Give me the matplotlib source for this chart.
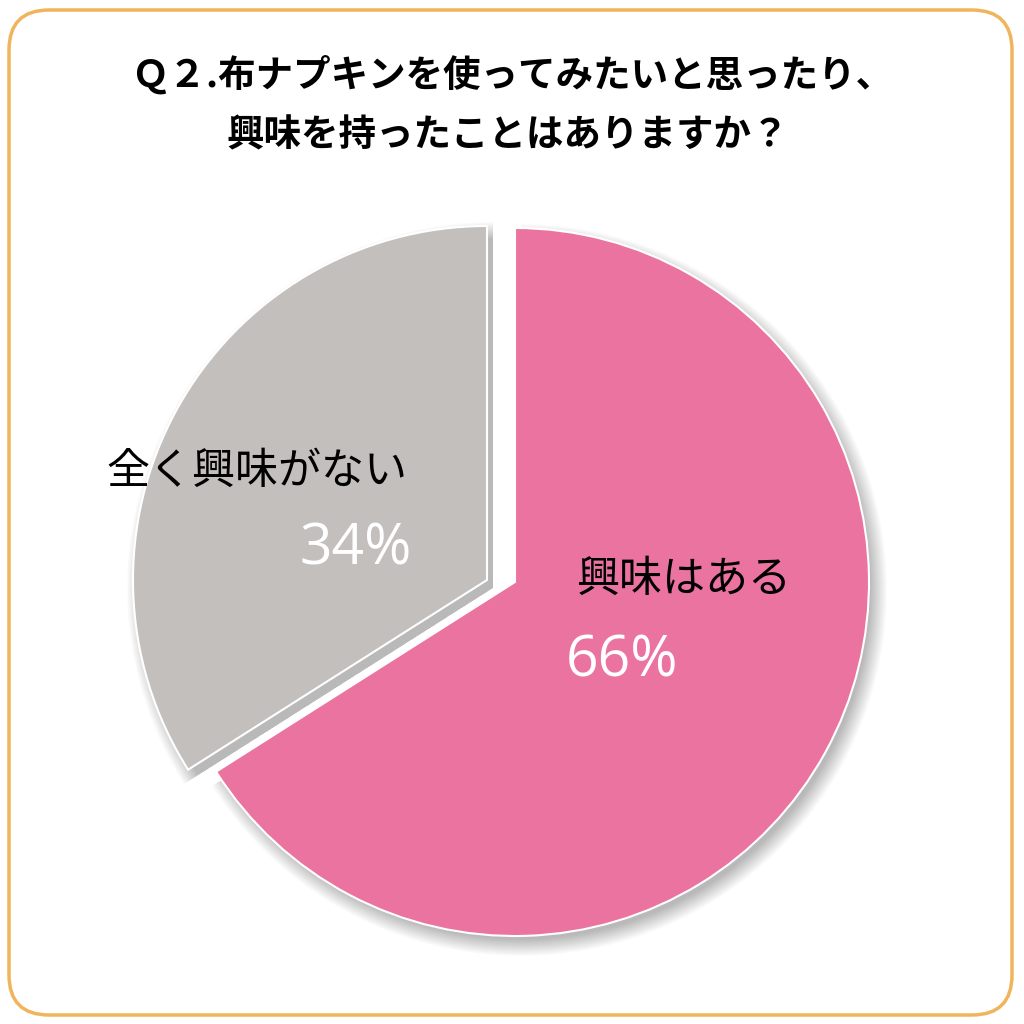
import matplotlib
matplotlib.use('Agg')
import matplotlib.pyplot as plt
from matplotlib.patches import FancyBboxPatch

plt.rcParams['font.family'] = ['Noto Sans CJK JP', 'DejaVu Sans']

# データ
labels = ['興味はある', '全く興味がない']
values = [66, 34]
pct_text = ['66%', '34%']
colors = ['#EB739F', '#C3BFBC']
title_lines = ['Ｑ２.布ナプキンを使ってみたいと思ったり、', '興味を持ったことはありますか？']

W = 1024
fig = plt.figure(figsize=(10.24, 10.24), dpi=100)
ax = fig.add_axes([0, 0, 1, 1])

cx, cy, r = 515, 442, 354
gap = 28  # gray slice shifted left

# soft shadow
for i in range(18):
    sw, _ = ax.pie(values, startangle=90, counterclock=False, center=(cx + 6, cy - 8),
                   radius=r + 12 - i, colors=['black', 'black'],
                   wedgeprops=dict(linewidth=0, alpha=0.014))
    sw[1].set_center((cx + 6 - gap, cy - 6))

wedges, _ = ax.pie(values, colors=colors, startangle=90, counterclock=False,
                   center=(cx, cy), radius=r,
                   wedgeprops=dict(edgecolor='white', linewidth=1.5))
wedges[1].set_center((cx - gap, cy + 2))

# labels
ax.text(576, 1024 - 580, labels[0], fontsize=31, color='black', ha='left', va='center')
ax.text(566, 1024 - 662, pct_text[0], fontsize=41, color='white', ha='left', va='center',
        family=['Open Sans', 'DejaVu Sans'])
ax.text(106, 1024 - 472, labels[1], fontsize=31, color='black', ha='left', va='center')
ax.text(412, 1024 - 550, pct_text[1], fontsize=41, color='white', ha='right', va='center',
        family=['Open Sans', 'DejaVu Sans'])

# title
ax.text(W / 2, 1024 - 75, title_lines[0], fontsize=27, fontweight='bold', ha='center', va='center')
ax.text(W / 2 - 4, 1024 - 135, title_lines[1], fontsize=27, fontweight='bold', ha='center', va='center')

# frame
frame = FancyBboxPatch((9, 9), 1003, 1005, boxstyle='round,pad=0,rounding_size=40',
                       fill=False, edgecolor='#F0B55C', linewidth=2.5)
ax.add_patch(frame)

ax.set_xlim(0, W)
ax.set_ylim(0, W)
ax.set_aspect('equal')
ax.axis('off')

fig.savefig('out.png', dpi=100, facecolor='white')
